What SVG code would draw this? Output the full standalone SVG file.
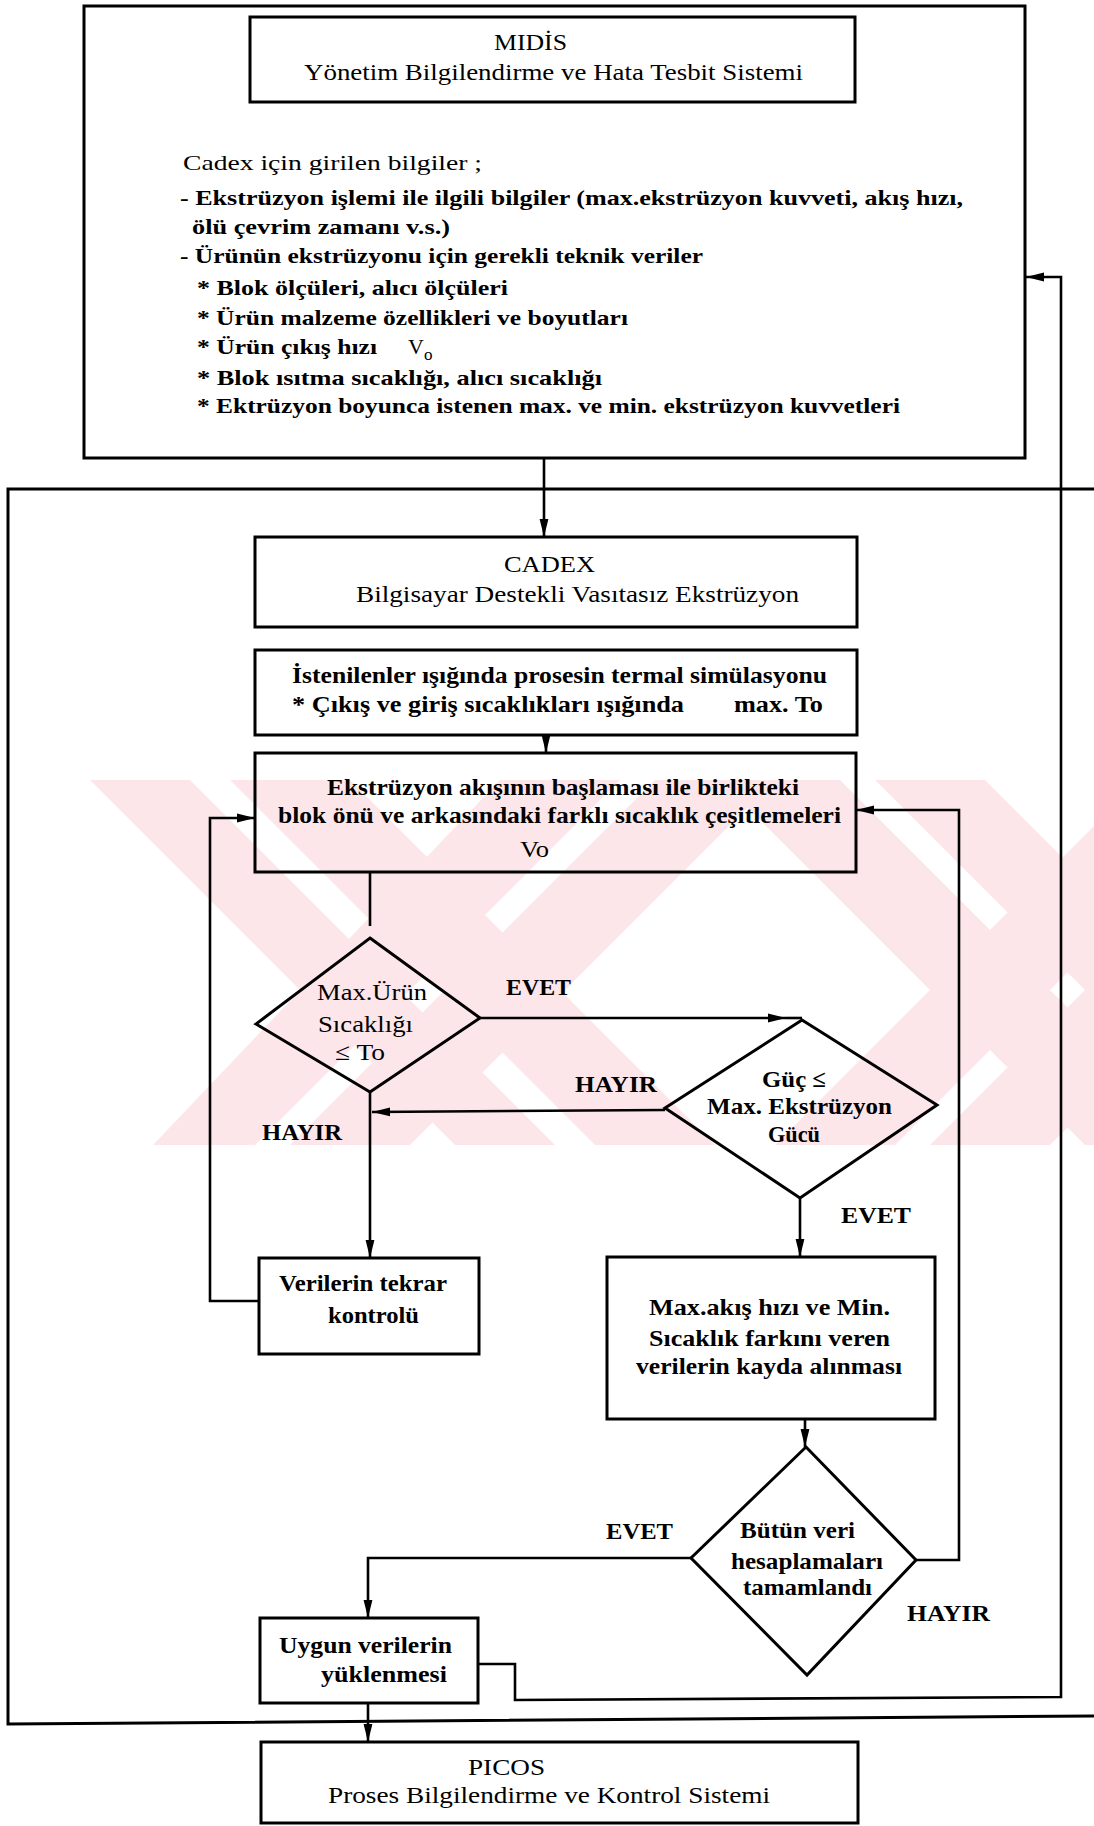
<svg xmlns="http://www.w3.org/2000/svg" width="1094" height="1826" viewBox="0 0 1094 1826">
  <style>
    .t { font-family: "Liberation Serif", "Times New Roman", serif; font-size: 22px; fill: #000; }
    .f { font-size: 24px; }
    .b { font-weight: bold; }
    .box { fill: none; stroke: #000; stroke-width: 3; }
    .frame { fill: none; stroke: #000; stroke-width: 3; }
    .wire { fill: none; stroke: #000; stroke-width: 2.6; }
  </style>
  <defs>
    <marker id="ah" viewBox="0 0 18 10" refX="18" refY="5" markerWidth="18" markerHeight="10" markerUnits="userSpaceOnUse" orient="auto">
      <path d="M0,0.6 L18,5 L0,9.4 Z" fill="#000"/>
    </marker>
  </defs>

  <rect width="1094" height="1826" fill="#fff"/>

  <!-- faint diagonal stamp behind the flow -->
  <g id="stamp" fill="#fce6ea">
    <path d="M90,780 L190,780 L555,1145 L455,1145 Z
             M230,780 L350,780 L715,1145 L595,1145 Z
             M720,780 L840,780 L1205,1145 L1085,1145 Z
             M875,780 L985,780 L1350,1145 L1240,1145 Z
             M500,780 L620,780 L255,1145 L153,1145 Z
             M655,780 L775,780 L410,1145 L290,1145 Z
             M1140,780 L1260,780 L895,1145 L775,1145 Z
             M1295,780 L1415,780 L1050,1145 L930,1145 Z"/>
  </g>

  <!-- system frames -->
  <g id="frames">
    <rect class="frame" x="84" y="6" width="941" height="452"/>
    <path class="frame" d="M1094,489 H8 V1724 L1094,1716"/>
  </g>

  <!-- connectors -->
  <g id="connectors">
    <path class="wire" d="M544,458 V537" marker-end="url(#ah)"/>
    <path class="wire" d="M546,735 V753" marker-end="url(#ah)"/>
    <path class="wire" d="M258,1301 H210 V818 H255" marker-end="url(#ah)"/>
    <path class="wire" d="M916,1560 H959 V810 H856" marker-end="url(#ah)"/>
    <path class="wire" d="M370,872 V926"/>
    <path class="wire" d="M480,1018 H786" marker-end="url(#ah)"/>
    <path class="wire" d="M786,1018 H802"/>
    <path class="wire" d="M665,1110 L372,1112" marker-end="url(#ah)"/>
    <path class="wire" d="M370,1092 V1258" marker-end="url(#ah)"/>
    <path class="wire" d="M800,1198 V1257" marker-end="url(#ah)"/>
    <path class="wire" d="M805,1419 V1447" marker-end="url(#ah)"/>
    <path class="wire" d="M691,1558 H368 V1618" marker-end="url(#ah)"/>
    <path class="wire" d="M368,1703 V1742" marker-end="url(#ah)"/>
    <path class="wire" d="M478,1664 H515 V1700 L1061,1697 V277 H1026" marker-end="url(#ah)"/>
  </g>

  <!-- MIDIS -->
  <g id="midis">
    <rect class="box" x="250" y="17" width="605" height="85"/>
    <text class="t f" x="494" y="50" textLength="73" lengthAdjust="spacingAndGlyphs">MIDİS</text>
    <text class="t f" x="304" y="80" textLength="499" lengthAdjust="spacingAndGlyphs">Yönetim Bilgilendirme ve Hata Tesbit Sistemi</text>
  </g>

  <!-- input list for CADEX -->
  <g id="midis-inputs">
    <text class="t" x="183" y="170" textLength="299" lengthAdjust="spacingAndGlyphs">Cadex için girilen bilgiler ;</text>
    <text class="t b" x="180" y="205" textLength="783" lengthAdjust="spacingAndGlyphs">- Ekstrüzyon işlemi ile ilgili bilgiler (max.ekstrüzyon kuvveti, akış hızı,</text>
    <text class="t b" x="192" y="234" textLength="258" lengthAdjust="spacingAndGlyphs">ölü çevrim zamanı v.s.)</text>
    <text class="t b" x="180" y="263" textLength="523" lengthAdjust="spacingAndGlyphs">- Ürünün ekstrüzyonu için gerekli teknik veriler</text>
    <text class="t b" x="197" y="295" textLength="311" lengthAdjust="spacingAndGlyphs">* Blok ölçüleri, alıcı ölçüleri</text>
    <text class="t b" x="197" y="325" textLength="431" lengthAdjust="spacingAndGlyphs">* Ürün malzeme özellikleri ve boyutları</text>
    <text class="t b" x="197" y="354" textLength="180" lengthAdjust="spacingAndGlyphs">* Ürün çıkış hızı</text>
    <text class="t" x="408" y="354">V<tspan dy="6" font-size="17">o</tspan></text>
    <text class="t b" x="197" y="385" textLength="405" lengthAdjust="spacingAndGlyphs">* Blok ısıtma sıcaklığı, alıcı sıcaklığı</text>
    <text class="t b" x="197" y="413" textLength="703" lengthAdjust="spacingAndGlyphs">* Ektrüzyon boyunca istenen max. ve min. ekstrüzyon kuvvetleri</text>
  </g>

  <!-- CADEX -->
  <g id="cadex">
    <rect class="box" x="255" y="537" width="602" height="90"/>
    <text class="t f" x="504" y="572" textLength="91" lengthAdjust="spacingAndGlyphs">CADEX</text>
    <text class="t f" x="356" y="602" textLength="443" lengthAdjust="spacingAndGlyphs">Bilgisayar Destekli Vasıtasız Ekstrüzyon</text>
  </g>

  <!-- thermal simulation -->
  <g id="thermal">
    <rect class="box" x="255" y="650" width="602" height="85"/>
    <text class="t f b" x="292" y="683" textLength="535" lengthAdjust="spacingAndGlyphs">İstenilenler ışığında prosesin termal simülasyonu</text>
    <text class="t f b" x="292" y="712" textLength="392" lengthAdjust="spacingAndGlyphs">* Çıkış ve giriş sıcaklıkları ışığında</text>
    <text class="t f b" x="734" y="712" textLength="89" lengthAdjust="spacingAndGlyphs">max. To</text>
  </g>

  <!-- temperature variations -->
  <g id="variations">
    <rect class="box" x="255" y="753" width="601" height="119"/>
    <text class="t f b" x="327" y="795" textLength="472" lengthAdjust="spacingAndGlyphs">Ekstrüzyon akışının başlaması ile birlikteki</text>
    <text class="t f b" x="278" y="823" textLength="563" lengthAdjust="spacingAndGlyphs">blok önü ve arkasındaki farklı sıcaklık çeşitlemeleri</text>
    <text class="t f" x="520" y="857" textLength="29" lengthAdjust="spacingAndGlyphs">Vo</text>
  </g>

  <!-- decision: product temperature -->
  <g id="check-temp">
    <polygon class="box" points="370,938 480,1018 370,1092 256,1024"/>
    <text class="t f" x="317" y="1000" textLength="110" lengthAdjust="spacingAndGlyphs">Max.Ürün</text>
    <text class="t f" x="318" y="1032" textLength="95" lengthAdjust="spacingAndGlyphs">Sıcaklığı</text>
    <text class="t f" x="335" y="1060" textLength="50" lengthAdjust="spacingAndGlyphs">≤ To</text>
  </g>

  <!-- decision: press power -->
  <g id="check-power">
    <polygon class="box" points="802,1020 937,1105 800,1198 665,1108"/>
    <text class="t f b" x="762" y="1087" textLength="64" lengthAdjust="spacingAndGlyphs">Güç ≤</text>
    <text class="t f b" x="707" y="1114" textLength="185" lengthAdjust="spacingAndGlyphs">Max. Ekstrüzyon</text>
    <text class="t f b" x="768" y="1142" textLength="52" lengthAdjust="spacingAndGlyphs">Gücü</text>
  </g>

  <!-- re-check data -->
  <g id="recheck">
    <rect class="box" x="259" y="1258" width="220" height="96"/>
    <text class="t f b" x="279" y="1291" textLength="168" lengthAdjust="spacingAndGlyphs">Verilerin tekrar</text>
    <text class="t f b" x="328" y="1323" textLength="91" lengthAdjust="spacingAndGlyphs">kontrolü</text>
  </g>

  <!-- record results -->
  <g id="record">
    <rect class="box" x="607" y="1257" width="328" height="162"/>
    <text class="t f b" x="649" y="1315" textLength="241" lengthAdjust="spacingAndGlyphs">Max.akış hızı ve Min.</text>
    <text class="t f b" x="649" y="1346" textLength="241" lengthAdjust="spacingAndGlyphs">Sıcaklık farkını veren</text>
    <text class="t f b" x="636" y="1374" textLength="266" lengthAdjust="spacingAndGlyphs">verilerin kayda alınması</text>
  </g>

  <!-- decision: all calculations done -->
  <g id="check-done">
    <polygon class="box" points="806,1447 916,1560 807,1675 691,1558"/>
    <text class="t f b" x="740" y="1538" textLength="115" lengthAdjust="spacingAndGlyphs">Bütün veri</text>
    <text class="t f b" x="731" y="1569" textLength="152" lengthAdjust="spacingAndGlyphs">hesaplamaları</text>
    <text class="t f b" x="743" y="1595" textLength="129" lengthAdjust="spacingAndGlyphs">tamamlandı</text>
  </g>

  <!-- load data -->
  <g id="upload">
    <rect class="box" x="260" y="1618" width="218" height="85"/>
    <text class="t f b" x="279" y="1653" textLength="173" lengthAdjust="spacingAndGlyphs">Uygun verilerin</text>
    <text class="t f b" x="321" y="1682" textLength="126" lengthAdjust="spacingAndGlyphs">yüklenmesi</text>
  </g>

  <!-- PICOS -->
  <g id="picos">
    <rect class="box" x="261" y="1742" width="597" height="81"/>
    <text class="t f" x="468" y="1775" textLength="77" lengthAdjust="spacingAndGlyphs">PICOS</text>
    <text class="t f" x="328" y="1803" textLength="442" lengthAdjust="spacingAndGlyphs">Proses Bilgilendirme ve Kontrol Sistemi</text>
  </g>

  <!-- branch labels -->
  <g id="labels">
    <text class="t f b" x="506" y="995" textLength="65" lengthAdjust="spacingAndGlyphs">EVET</text>
    <text class="t f b" x="575" y="1092" textLength="82" lengthAdjust="spacingAndGlyphs">HAYIR</text>
    <text class="t f b" x="262" y="1140" textLength="80" lengthAdjust="spacingAndGlyphs">HAYIR</text>
    <text class="t f b" x="841" y="1223" textLength="70" lengthAdjust="spacingAndGlyphs">EVET</text>
    <text class="t f b" x="606" y="1539" textLength="67" lengthAdjust="spacingAndGlyphs">EVET</text>
    <text class="t f b" x="907" y="1621" textLength="83" lengthAdjust="spacingAndGlyphs">HAYIR</text>
  </g>
</svg>
